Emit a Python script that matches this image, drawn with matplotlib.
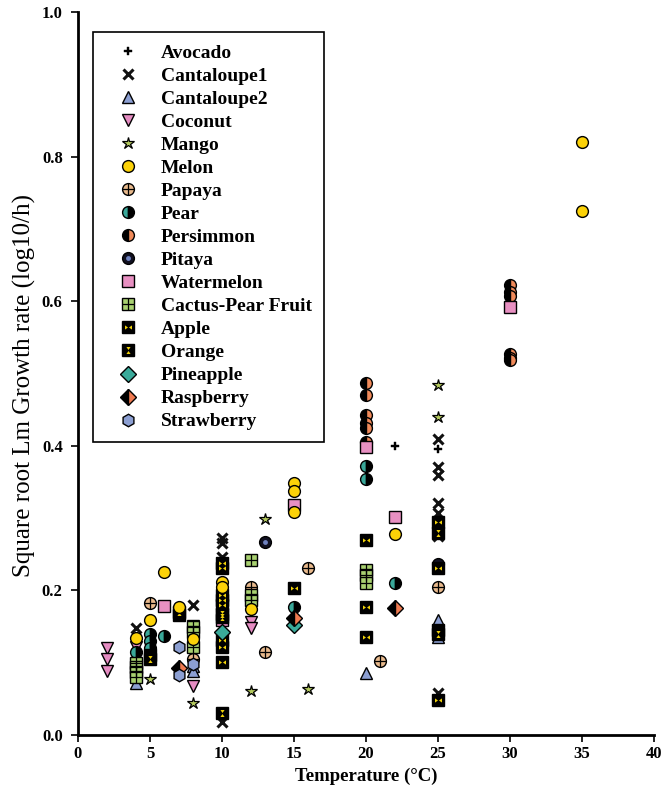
import numpy as np
import matplotlib
matplotlib.use("Agg")
import matplotlib.pyplot as plt
from matplotlib.path import Path

plt.rcParams['font.family'] = ['Liberation Serif', 'DejaVu Serif']
plt.rcParams['font.weight'] = 'bold'

# --- growth rate data (temperature, sqrt rate) per commodity ---
avocado_t = [22, 25]
avocado_r = [0.400, 0.395]

cantaloupe1_t = [4, 8, 10, 10, 10, 10, 25, 25, 25, 25, 25, 25, 25, 25]
cantaloupe1_r = [0.148, 0.180, 0.272, 0.265, 0.246, 0.018, 0.410, 0.371, 0.360, 0.321, 0.307, 0.290, 0.275, 0.058]

cantaloupe2_t = [4, 4, 8, 8, 20, 25, 25]
cantaloupe2_r = [0.110, 0.072, 0.095, 0.088, 0.086, 0.159, 0.135]

coconut_t = [2, 2, 2, 4, 8, 8, 12, 12]
coconut_r = [0.120, 0.105, 0.088, 0.122, 0.151, 0.068, 0.156, 0.148]

mango_t = [5, 8, 12, 13, 16, 25, 25]
mango_r = [0.077, 0.044, 0.061, 0.299, 0.063, 0.484, 0.440]

melon_t = [4, 5, 6, 7, 8, 10, 10, 12, 15, 15, 15, 22, 35, 35]
melon_r = [0.134, 0.159, 0.225, 0.177, 0.133, 0.212, 0.205, 0.174, 0.349, 0.338, 0.309, 0.278, 0.820, 0.725]

papaya_t = [5, 8, 12, 13, 16, 21, 25]
papaya_r = [0.183, 0.105, 0.205, 0.115, 0.231, 0.102, 0.205]

pear_t = [4, 5, 5, 5, 6, 15, 20, 20, 22]
pear_r = [0.115, 0.140, 0.130, 0.120, 0.137, 0.177, 0.372, 0.354, 0.210]

persimmon_t = [10, 20, 20, 20, 20, 20, 20, 30, 30, 30, 30, 30, 30]
persimmon_r = [0.174, 0.487, 0.470, 0.443, 0.431, 0.425, 0.405, 0.622, 0.613, 0.607, 0.527, 0.522, 0.518]

pitaya_t = [13, 25]
pitaya_r = [0.267, 0.237]

watermelon_t = [6, 10, 15, 20, 22, 30]
watermelon_r = [0.178, 0.159, 0.318, 0.398, 0.302, 0.592]

cactus_t = [4, 4, 4, 4, 8, 8, 8, 12, 12, 12, 20, 20, 20]
cactus_r = [0.100, 0.094, 0.087, 0.080, 0.150, 0.142, 0.122, 0.242, 0.194, 0.187, 0.228, 0.221, 0.210]

apple_t = [5, 7, 10, 10, 10, 10, 10, 10, 10, 10, 15, 20, 20, 20, 25, 25, 25, 25]
apple_r = [0.110, 0.166, 0.238, 0.231, 0.194, 0.187, 0.180, 0.131, 0.122, 0.101,
           0.203, 0.270, 0.177, 0.136, 0.295, 0.231, 0.145, 0.048]

orange_t = [5, 7, 10, 10, 10, 25, 25]
orange_r = [0.105, 0.170, 0.030, 0.168, 0.163, 0.280, 0.140]

pineapple_t = [10, 15]
pineapple_r = [0.143, 0.152]

raspberry_t = [7, 15, 22]
raspberry_r = [0.093, 0.162, 0.176]

strawberry_t = [7, 7, 8]
strawberry_r = [0.122, 0.083, 0.098]

# yellow inner marks for the black squares
codes = [Path.MOVETO, Path.LINETO, Path.LINETO, Path.CLOSEPOLY] * 2
bow_lr = Path([(-1, -0.6), (-0.15, 0), (-1, 0.6), (-1, -0.6),
               (1, -0.6), (0.15, 0), (1, 0.6), (1, -0.6)], codes)
bow_tb = Path([(-0.6, 1), (0, 0.15), (0.6, 1), (-0.6, 1),
               (-0.6, -1), (0, -0.15), (0.6, -1), (-0.6, -1)], codes)

fig = plt.figure(figsize=(6.63, 8.01), dpi=100)
ax = fig.add_axes([0.1176, 0.0824, 0.8688, 0.9026])

ec = 'black'
series = [
    ("Avocado", avocado_t, avocado_r,
     [dict(marker='P', ms=5.5, color='black', mec='black', mew=0.3)]),
    ("Cantaloupe1", cantaloupe1_t, cantaloupe1_r,
     [dict(marker='x', ms=7, color='#111111', mew=2.2)]),
    ("Cantaloupe2", cantaloupe2_t, cantaloupe2_r,
     [dict(marker='^', ms=9, mfc='#8c9fd2', mec=ec, mew=1)]),
    ("Coconut", coconut_t, coconut_r,
     [dict(marker='v', ms=9, mfc='#e58cc2', mec=ec, mew=1)]),
    ("Mango", mango_t, mango_r,
     [dict(marker='*', ms=9, mfc='#b3c95e', mec=ec, mew=0.9)]),
    ("Melon", melon_t, melon_r,
     [dict(marker='o', ms=8.5, mfc='#fcd208', mec=ec, mew=1)]),
    ("Papaya", papaya_t, papaya_r,
     [dict(marker='o', ms=8.5, mfc='#e8b98c', mec=ec, mew=1),
      dict(marker='+', ms=8.5, color='black', mew=0.9)]),
    ("Pear", pear_t, pear_r,
     [dict(marker='o', ms=8.5, mfc='#3aa89a', mfcalt='black', fillstyle='left', mec=ec, mew=1)]),
    ("Persimmon", persimmon_t, persimmon_r,
     [dict(marker='o', ms=8.5, mfc='black', mfcalt='#f08a5a', fillstyle='left', mec=ec, mew=1)]),
    ("Pitaya", pitaya_t, pitaya_r,
     [dict(marker='o', ms=8.5, mfc='#111122', mec=ec, mew=1),
      dict(marker='o', ms=3.5, mfc='#6f82c0', mec='none')]),
    ("Watermelon", watermelon_t, watermelon_r,
     [dict(marker='s', ms=8, mfc='#e890c2', mec=ec, mew=1)]),
    ("Cactus-Pear Fruit", cactus_t, cactus_r,
     [dict(marker='s', ms=8, mfc='#a8d070', mec=ec, mew=1),
      dict(marker='+', ms=8, color='black', mew=0.9)]),
    ("Apple", apple_t, apple_r,
     [dict(marker='s', ms=8, mfc='black', mec=ec, mew=1),
      dict(marker=bow_lr, ms=5, mfc='#f5d60a', mec='none')]),
    ("Orange", orange_t, orange_r,
     [dict(marker='s', ms=8, mfc='black', mec=ec, mew=1),
      dict(marker=bow_tb, ms=5, mfc='#f5d60a', mec='none')]),
    ("Pineapple", pineapple_t, pineapple_r,
     [dict(marker='D', ms=8, mfc='#3aaa9a', mec=ec, mew=1)]),
    ("Raspberry", raspberry_t, raspberry_r,
     [dict(marker='D', ms=8, mfc='black', mfcalt='#f07a50', fillstyle='left', mec=ec, mew=1)]),
    ("Strawberry", strawberry_t, strawberry_r,
     [dict(marker='h', ms=9, mfc='#8c9fd2', mec=ec, mew=1)]),
]

# melon sits on top of the cactus-pear squares
zboost = {"Melon": 0.2}

handles, labels = [], []
for i, (name, t, r, layers) in enumerate(series):
    group = []
    for kw in layers:
        ln, = ax.plot(t, r, linestyle='none', zorder=3 + i * 0.01 + zboost.get(name, 0),
                      clip_on=False, **kw)
        group.append(ln)
    handles.append(tuple(group))
    labels.append(name)

ax.set_xlim(0, 40)
ax.set_ylim(0, 1.0)
ax.set_xticks(np.arange(0, 41, 5))
ax.set_yticks(np.arange(0, 1.01, 0.2))
ax.set_yticklabels([f"{v:.1f}" for v in np.arange(0, 1.01, 0.2)])

for s in ['top', 'right']:
    ax.spines[s].set_visible(False)
for s in ['left', 'bottom']:
    ax.spines[s].set_linewidth(2)
ax.tick_params(direction='out', length=5, width=1.2, labelsize=12)
ax.tick_params(axis='x', pad=3)
ax.tick_params(axis='y', pad=6)
for lab in ax.get_xticklabels() + ax.get_yticklabels():
    lab.set_fontweight('bold')

ax.set_xlabel("Temperature (\u00b0C)", fontsize=13.5, fontweight='bold', labelpad=4)
ax.set_ylabel("Square root Lm Growth rate (log10/h)", fontsize=18, fontweight='normal')
ax.yaxis.set_label_coords(-0.072, 0.484)

leg = ax.legend(handles, labels, loc='upper left', bbox_to_anchor=(0.026, 0.972),
                borderaxespad=0, numpoints=1, fancybox=False, framealpha=1,
                edgecolor='black', prop={'size': 14, 'weight': 'bold'},
                labelspacing=0.28, handlelength=2.4, handletextpad=0.5, borderpad=0.6)
leg.get_frame().set_linewidth(1.2)
leg.set_zorder(10)

fig.savefig("out.png", dpi=100)
